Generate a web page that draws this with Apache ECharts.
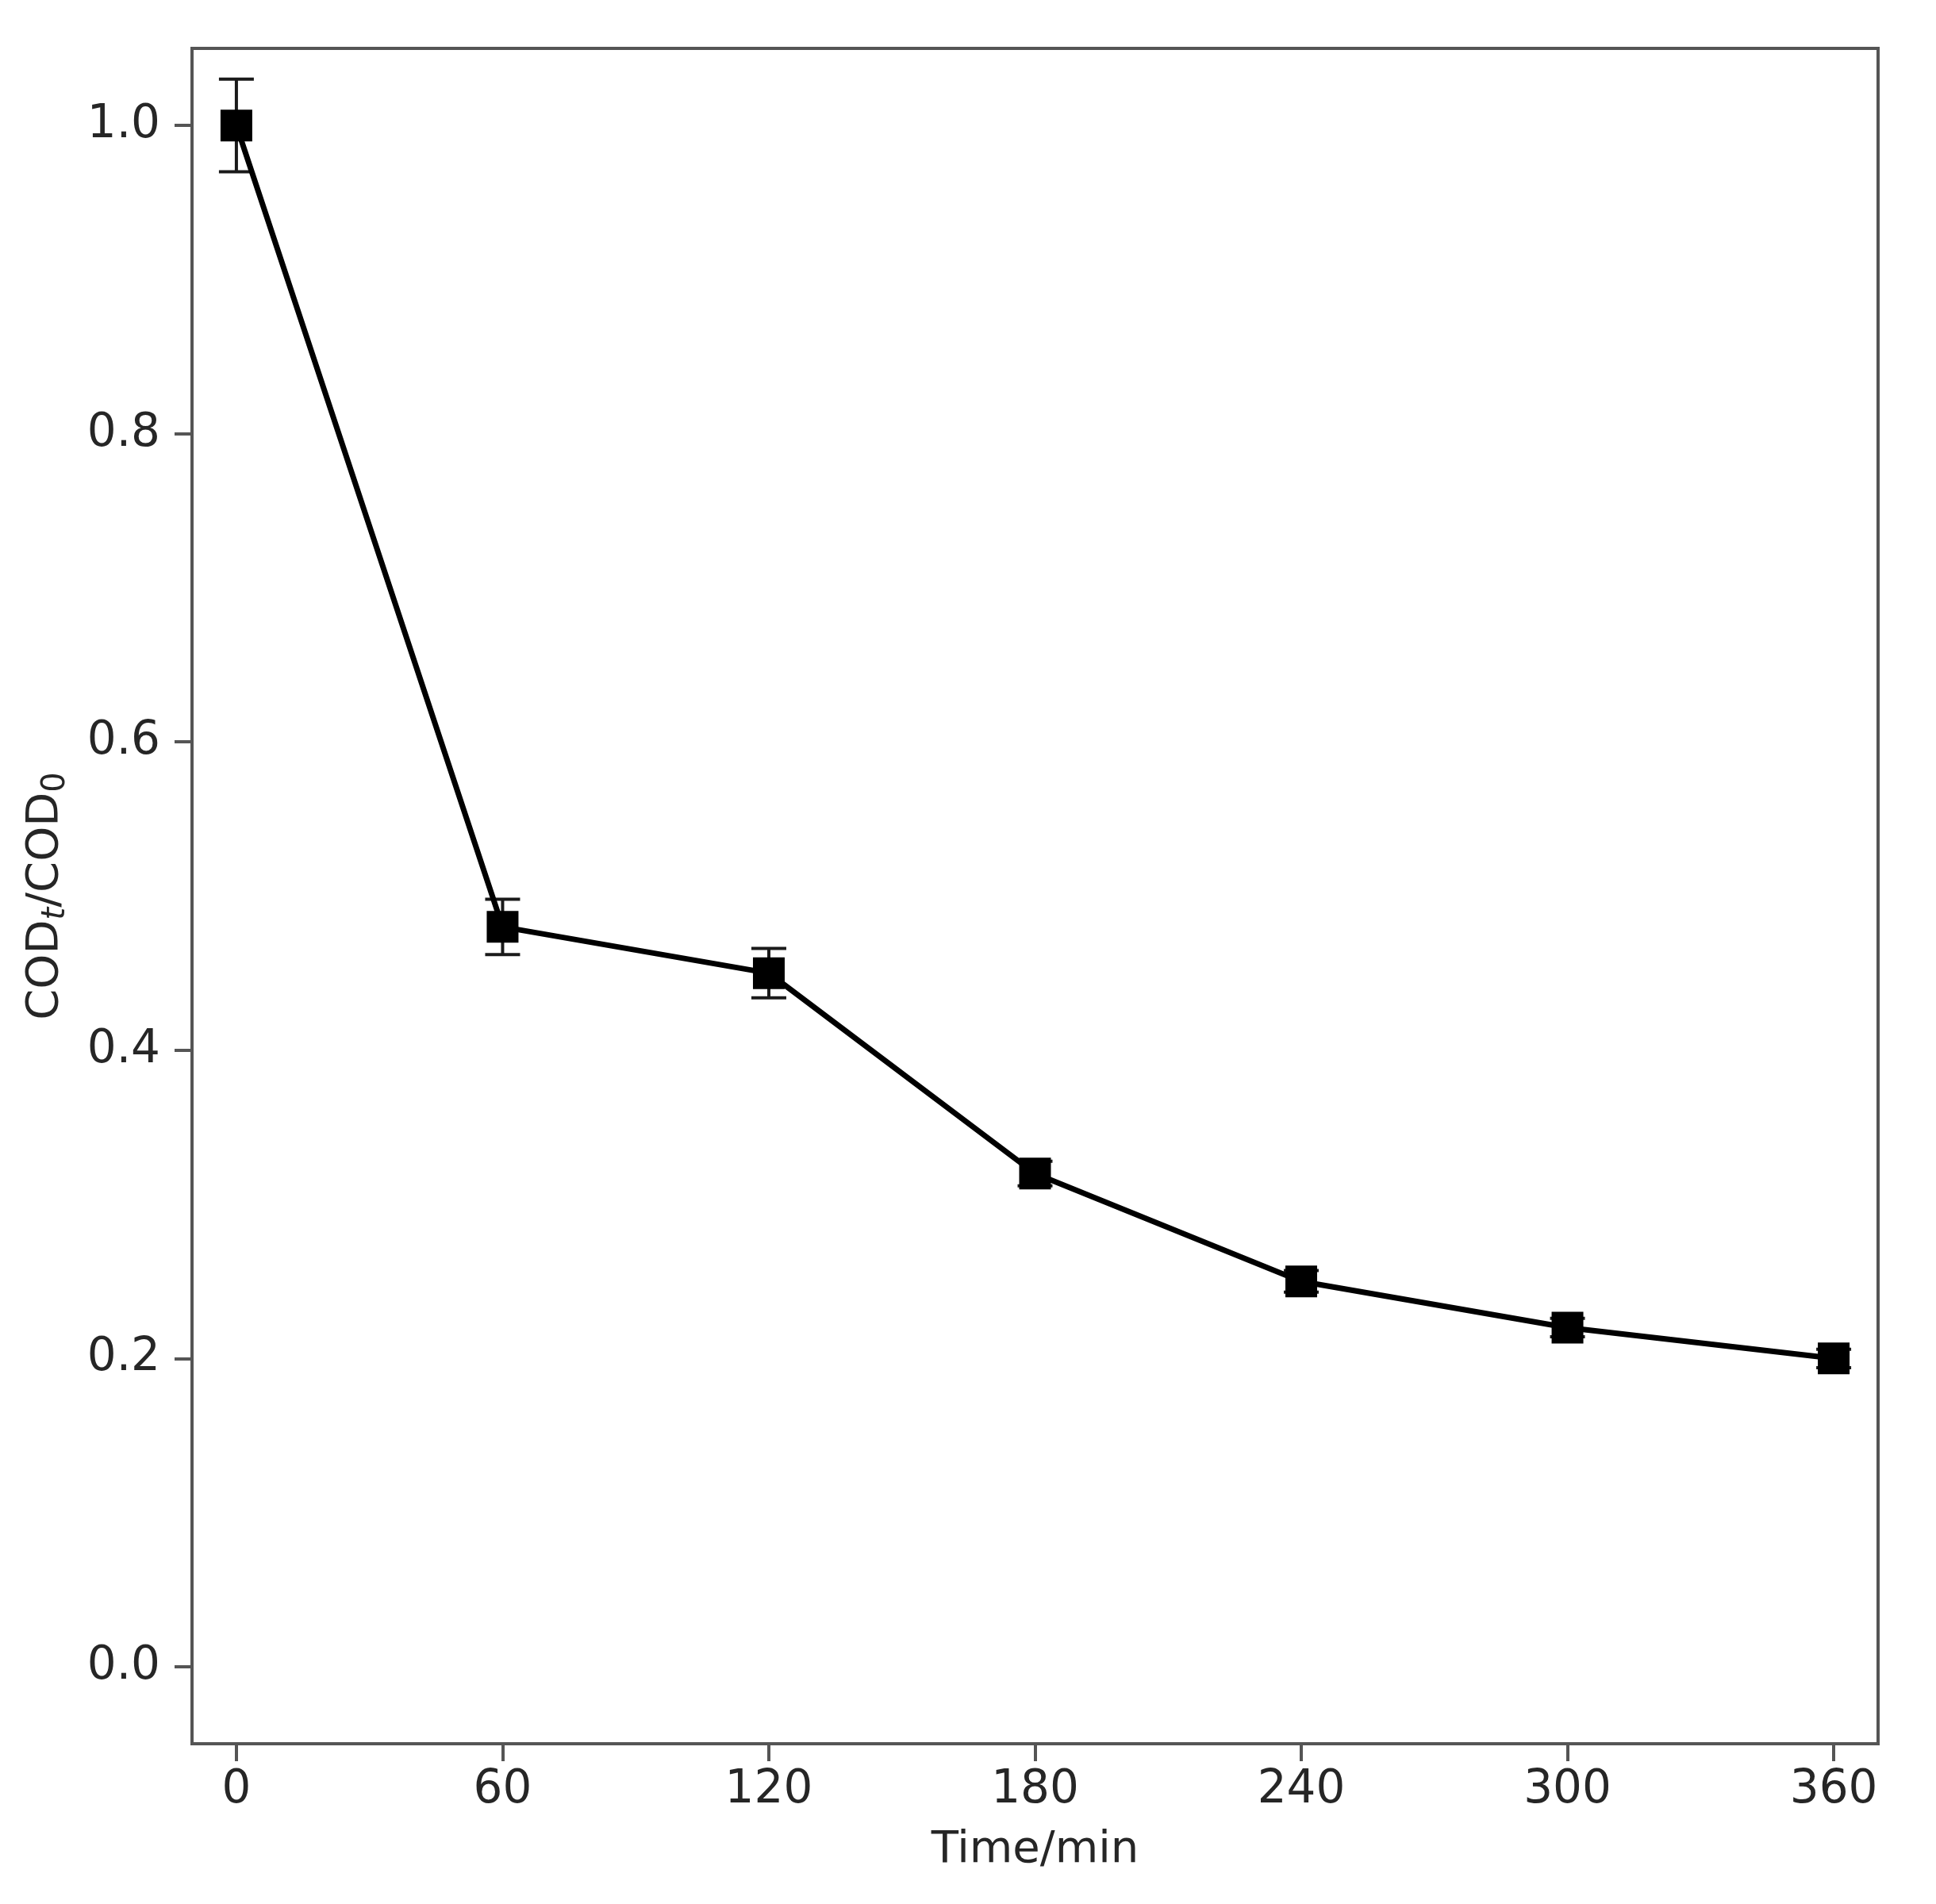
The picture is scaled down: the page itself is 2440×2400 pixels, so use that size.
<!DOCTYPE html>
<html>
<head>
<meta charset="utf-8">
<title>COD removal</title>
<script src="https://cdn.jsdelivr.net/npm/echarts@6/dist/echarts.min.js"></script>
<style>
  html, body { margin: 0; padding: 0; background: #fff; }
  #chart { width: 2440px; height: 2400px; }
</style>
</head>
<body>
<div id="chart"></div>
<script>
// data
const times = [0, 60, 120, 180, 240, 300, 360];
const codRatio = [1.0, 0.48, 0.45, 0.32, 0.25, 0.22, 0.20];
const codErr = [0.03, 0.018, 0.016, 0.008, 0.007, 0.006, 0.006];
const xTicks = [0, 60, 120, 180, 240, 300, 360];
const yTicks = [0, 0.2, 0.4, 0.6, 0.8, 1.0];

const axisColor = '#555';
const textColor = '#262626';
const font = 'DejaVu Sans';

const chartDom = document.getElementById('chart');
const myChart = echarts.init(chartDom);

const lineData = times.map((t, i) => [t, codRatio[i]]);
const errData = times.map((t, i) => [t, codRatio[i] - codErr[i], codRatio[i] + codErr[i]]);

const option = {
  backgroundColor: '#fff',
  animation: false,
  grid: {
    left: 242, top: 61, right: 73, bottom: 202,
    show: true, borderColor: axisColor, borderWidth: 4, backgroundColor: 'transparent'
  },
  xAxis: {
    type: 'value',
    min: -10, max: 370,
    name: 'Time/min',
    nameLocation: 'middle',
    nameGap: 106,
    nameTextStyle: { fontFamily: font, fontSize: 56, color: textColor },
    axisLine: { show: false, onZero: false },
    splitLine: { show: false },
    axisTick: { show: true, customValues: xTicks, length: 22, lineStyle: { color: axisColor, width: 4 } },
    axisLabel: {
      customValues: xTicks, margin: 30,
      fontFamily: font, fontSize: 58, color: textColor
    }
  },
  yAxis: {
    type: 'value',
    min: -0.05, max: 1.05,
    name: '{n|COD}{t|t}{n|/COD}{s|0}',
    nameLocation: 'middle',
    nameGap: 150,
    nameTextStyle: {
      rich: {
        n: { fontFamily: font, fontSize: 56, color: textColor, lineHeight: 70 },
        t: { fontFamily: font, fontSize: 40, fontStyle: 'italic', color: textColor, lineHeight: 70, padding: [28, 0, 0, 0] },
        s: { fontFamily: font, fontSize: 40, color: textColor, lineHeight: 70, padding: [28, 0, 0, 0] }
      }
    },
    axisLine: { show: false, onZero: false },
    splitLine: { show: false },
    axisTick: { show: true, customValues: yTicks, length: 22, lineStyle: { color: axisColor, width: 4 } },
    axisLabel: {
      customValues: yTicks, margin: 40,
      fontFamily: font, fontSize: 58, color: textColor,
      formatter: v => v.toFixed(1)
    }
  },
  series: [
    {
      type: 'custom',
      name: 'error',
      data: errData,
      z: 3,
      renderItem: function (params, api) {
        const x = api.value(0);
        const lo = api.coord([x, api.value(1)]);
        const hi = api.coord([x, api.value(2)]);
        const half = 22;
        const style = { stroke: '#1a1a1a', lineWidth: 4 };
        return {
          type: 'group',
          children: [
            { type: 'line', shape: { x1: lo[0], y1: lo[1], x2: hi[0], y2: hi[1] }, style: style },
            { type: 'line', shape: { x1: lo[0] - half, y1: lo[1], x2: lo[0] + half, y2: lo[1] }, style: style },
            { type: 'line', shape: { x1: hi[0] - half, y1: hi[1], x2: hi[0] + half, y2: hi[1] }, style: style }
          ]
        };
      }
    },
    {
      type: 'line',
      name: 'COD',
      data: lineData,
      z: 4,
      symbol: 'rect',
      symbolSize: 40,
      showAllSymbol: true,
      lineStyle: { color: '#000', width: 7 },
      itemStyle: { color: '#000' }
    }
  ]
};

myChart.setOption(option);
</script>
</body>
</html>
